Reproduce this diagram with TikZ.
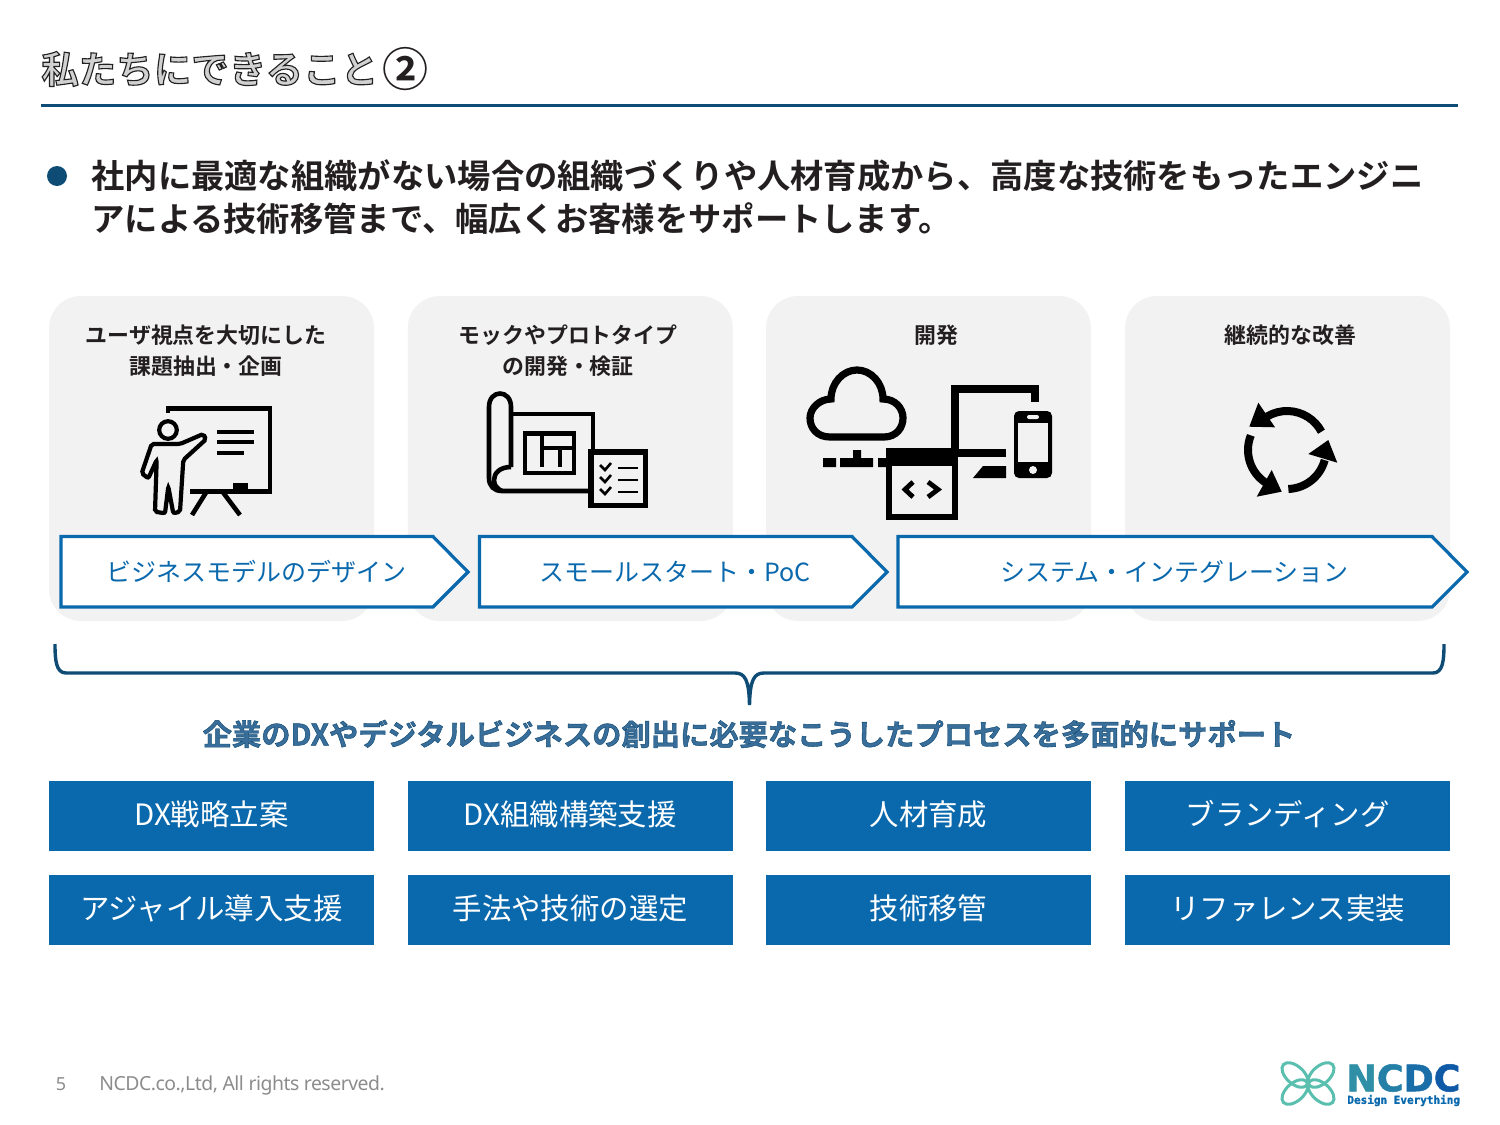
\documentclass[tikz,border=0pt]{standalone}
\usepackage{fontspec}
\setmainfont{Noto Sans CJK JP}
\newfontfamily\judulfont[FakeBold=3]{Noto Sans CJK JP Bold}
\newfontfamily\tengahfont[FakeBold=1.4]{Noto Sans CJK JP Bold}
\newfontfamily\tebalfont{Noto Sans CJK JP Bold}
\newfontfamily\kakifont[LetterSpace=-2.5]{Noto Sans}
\newfontfamily\logofont[FakeBold=1.5]{DejaVu Sans Bold}
\newfontfamily\logomono[FakeBold=1.5]{DejaVu Sans Mono Bold}
\definecolor{tua}{HTML}{0F4C75}
\definecolor{biru}{HTML}{0A69AD}
\definecolor{kartu}{HTML}{F2F2F2}
\definecolor{hitam}{HTML}{231F20}
\definecolor{abu}{HTML}{8C8C8C}
\definecolor{toska}{HTML}{5BBFAF}
\begin{document}
\begin{tikzpicture}[x=0.5pt,y=-0.5pt,
      kartuan/.style={fill=kartu,rounded corners=16pt,minimum width=162.5pt,minimum height=162.5pt,inner sep=0pt},
      kotak/.style={fill=biru,text=white,minimum width=162.5pt,minimum height=35pt,inner sep=0pt,
        text height=12pt,text depth=3pt,font=\fontsize{14.7}{18}\selectfont},
      judulkartu/.style={align=center,inner sep=0pt,text=hitam,
        font=\tebalfont\fontsize{10.95}{15.5}\selectfont},
      panah/.style={draw=biru,fill=white,line width=1.6pt,line join=miter},
      proses/.style={text=biru,inner sep=0pt,font=\fontsize{12.5}{15}\selectfont},
      ikon/.style={line width=2.3pt,draw=black}]
    \useasboundingbox (0,0) rectangle (1500,1125);

    % --- judul dan garis ------------------------------------------------------
    \node[anchor=west,inner sep=0pt] (judul) at (41,69)
      {\judulfont\fontsize{18.75}{22}\selectfont\special{pdf:bcolor [0.82] [0.13]}私たちにできること\special{pdf:ecolor}};
    \node[anchor=center,inner sep=0pt,text=hitam] (nomor) at (405,69)
      {\tebalfont\fontsize{23}{26}\selectfont ②};
    \draw[tua,line width=1.6pt] (41,105.5) -- (1458,105.5);

    % --- paragraf utama --------------------------------------------------------
    \fill[tua] (57,176) circle (5pt);
    \node[anchor=north west,inner sep=0pt,align=left,text=hitam,
          font=\tebalfont\fontsize{16.65}{21.5}\selectfont] (isi) at (91,159)
      {社内に最適な組織がない場合の組織づくりや人材育成から、高度な技術をもったエンジニ\\
       アによる技術移管まで、幅広くお客様をサポートします。};

    % --- empat kartu -----------------------------------------------------------
    \node[kartuan] (karta) at (211.5,458.5) {};
    \node[kartuan] (kartb) at (570.25,458.5) {};
    \node[kartuan] (kartc) at (928.5,458.5) {};
    \node[kartuan] (kartd) at (1287.5,458.5) {};
    \node[judulkartu] (juda) at (206,351) {ユーザ視点を大切にした\\課題抽出・企画};
    \node[judulkartu] (judb) at (568,351) {モックやプロトタイプ\\の開発・検証};
    \node[judulkartu] (judc) at (936,335.5) {開発};
    \node[judulkartu] (judd) at (1290.5,335.5) {継続的な改善};

    % --- ikon presentasi -------------------------------------------------------
    \draw[ikon] (168,413) -- (168,408.5) -- (270,408.5) -- (270,491.5) -- (190,491.5);
    \fill (233,483) rectangle (248,491);
    \draw[ikon] (207,491) -- (192,515) (222,491) -- (240,515);
    \draw[ikon] (217,432) -- (254,432) (217,442) -- (254,442) (217,453) -- (244,453);
    \draw[ikon,line width=2.1pt] (168,430) circle (4.4pt);
    \draw[ikon,line width=2.1pt,rounded corners=1pt] (203.3,434) -- (180,444) -- (151.7,444) -- (141.7,473.3)
      -- (148.3,478.3) -- (156.7,460) -- (155,511.7) -- (165,513.3) -- (168.3,486.7) -- (173.3,513.3)
      -- (180,511.7) -- (183.3,460) -- (206,439.3) -- cycle;

    % --- ikon denah ------------------------------------------------------------
    \draw[ikon] (511,467) -- (511,407) .. controls (511,389) and (489,389) .. (489,407) -- (489,478)
      .. controls (489,486) and (494,491) .. (502,491) -- (592,491);
    \draw[ikon] (511,467) .. controls (500,467) and (494,473) .. (494,480) .. controls (494,485) and (497,489) .. (502,491);
    \draw[ikon] (511,414) -- (593,414) -- (593,450);
    \draw[ikon] (525,433.5) rectangle (574,473);
    \draw[ikon,line width=2pt] (542,434) -- (542,467) (542,448) -- (574,448) (560,448) -- (560,467);
    \draw[ikon,line width=2.6pt,fill=kartu] (591,452) rectangle (645.5,505.5);
    \draw[ikon,line width=1.2pt] (618,468) -- (638,468) (618,480) -- (638,480) (618,492) -- (638,492);
    \draw[ikon,line width=1.3pt] (600,465) -- (605,470) -- (611,463) (600,477) -- (605,482) -- (611,475)
      (600,489) -- (605,494) -- (611,487);

    % --- ikon awan, layar, ponsel ---------------------------------------------
    \draw[ikon,line width=3.6pt] (830,437) .. controls (817,437) and (810,428) .. (810,418)
      .. controls (810,408) and (820,399) .. (831,399) .. controls (831,383) and (843,370) .. (857,370)
      .. controls (871,370) and (883,383) .. (883,399) .. controls (895,399) and (903,408) .. (903,418)
      .. controls (903,428) and (896,437) .. (884,437) -- cycle;
    \fill (823,458) rectangle (836,467) (840,458) rectangle (873,467) (853,450) rectangle (861,458)
      (878,458) rectangle (887,467);
    \draw[ikon,line width=4pt] (955,449) -- (955,389) -- (1035,389) -- (1035,402);
    \fill (958,449) rectangle (1006,457);
    \fill (973,478) -- (983,466) -- (1006,466) -- (1006,478) -- cycle;
    \draw[ikon,line width=3pt,fill=kartu] (889,451) rectangle (955,517);
    \fill (886,448) rectangle (958,466);
    \draw[ikon,line width=2.4pt] (913,482) -- (905,489.5) -- (913,497) (928,482) -- (938,489.5) -- (928,497);
    \fill[rounded corners=2.5pt] (1014,411) rectangle (1052,478);
    \fill[kartu] (1018,423) rectangle (1048,462);
    \fill[kartu,rounded corners=1pt] (1027,415) rectangle (1039,419);
    \fill[kartu] (1033,470) circle (2pt);

    % --- ikon putaran ----------------------------------------------------------
    \draw[ikon,line width=4pt] ({1287+39*cos(28)},{450-39*sin(28)}) arc[start angle=28,end angle=122,radius=19.5pt];
    \draw[ikon,line width=4pt] ({1287+39*cos(158)},{450-39*sin(158)}) arc[start angle=158,end angle=238,radius=19.5pt];
    \draw[ikon,line width=4pt] ({1287+39*cos(272)},{450-39*sin(272)}) arc[start angle=272,end angle=345,radius=19.5pt];
    \fill (1258.3,402.7) -- (1275,427.3) -- (1249.3,426.7) -- cycle;
    \fill (1271.7,470) -- (1281.7,491.7) -- (1256.7,496.7) -- cycle;
    \fill (1328.3,440) -- (1337.3,462.7) -- (1308.3,454) -- cycle;

    % --- tiga panah proses -----------------------------------------------------
    \draw[panah] (61,536.5) -- (433,536.5) -- (468,572) -- (433,607) -- (61,607) -- cycle;
    \draw[panah] (479.5,536.5) -- (852,536.5) -- (887,572) -- (852,607) -- (479.5,607) -- cycle;
    \draw[panah] (898,536.5) -- (1432,536.5) -- (1467,572) -- (1432,607) -- (898,607) -- cycle;
    \node[proses] (prosa) at (256,572) {ビジネスモデルのデザイン};
    \node[proses] (prosb) at (675,572) {スモールスタート・PoC};
    \node[proses] (prosc) at (1174.5,572) {システム・インテグレーション};

    % --- kurung dan kalimat ----------------------------------------------------
    \draw[tua,line width=1.7pt] (55,644) .. controls (55,660) and (56,673) .. (66,673) -- (735,673)
      .. controls (745,673) and (749,680) .. (749.5,705) .. controls (750,680) and (754,673) .. (764,673)
      -- (1433,673) .. controls (1443,673) and (1444,660) .. (1444,644);
    \node[inner sep=0pt] (ringkas) at (749,734)
      {\tengahfont\fontsize{14.65}{18}\selectfont\special{pdf:bcolor [0.22 0.43 0.60] [0.05 0.28 0.44]}企業のDXやデジタルビジネスの創出に必要なこうしたプロセスを多面的にサポート\special{pdf:ecolor}};

    % --- delapan kotak layanan -------------------------------------------------
    \node[kotak] (laya) at (211.5,816) {DX戦略立案};
    \node[kotak] (layb) at (570.25,816) {DX組織構築支援};
    \node[kotak] (layc) at (928.5,816) {人材育成};
    \node[kotak] (layd) at (1287.5,816) {ブランディング};
    \node[kotak] (laye) at (211.5,910) {アジャイル導入支援};
    \node[kotak] (layf) at (570.25,910) {手法や技術の選定};
    \node[kotak] (layg) at (928.5,910) {技術移管};
    \node[kotak] (layh) at (1287.5,910) {リファレンス実装};

    % --- kaki halaman dan logo -------------------------------------------------
    \node[text=abu,inner sep=0pt,font=\kakifont\fontsize{9}{11}\selectfont] (halaman) at (61,1084) {5};
    \node[anchor=west,text=abu,inner sep=0pt,font=\kakifont\fontsize{9.7}{12}\selectfont] (hakcipta) at (99,1085)
      {NCDC.co.,Ltd, All rights reserved.};
    \begin{scope}[toska,line width=1.5pt]
      \draw[rotate around={-42:(1295,1075)}] (1295,1075) ellipse (7.8pt and 4.4pt);
      \draw[rotate around={42:(1295,1092)}] (1295,1092) ellipse (7.8pt and 4.4pt);
      \draw[rotate around={42:(1321,1075)}] (1321,1075) ellipse (7.8pt and 4.4pt);
      \draw[rotate around={-42:(1321,1092)}] (1321,1092) ellipse (7.8pt and 4.4pt);
    \end{scope}
    \node[anchor=west,inner sep=0pt,font=\logofont\fontsize{18.2}{20}\selectfont] (logo) at (1346,1078)
      {\textcolor[HTML]{2F8FA6}{N}\textcolor[HTML]{2580A8}{C}\textcolor[HTML]{1A6EA8}{D}\textcolor[HTML]{0E5AA6}{C}};
    \node[anchor=west,inner sep=0pt,text=biru,font=\logomono\fontsize{5.5}{6}\selectfont] (slogan) at (1347,1100.5)
      {Design Everything};
\end{tikzpicture}
\end{document}
